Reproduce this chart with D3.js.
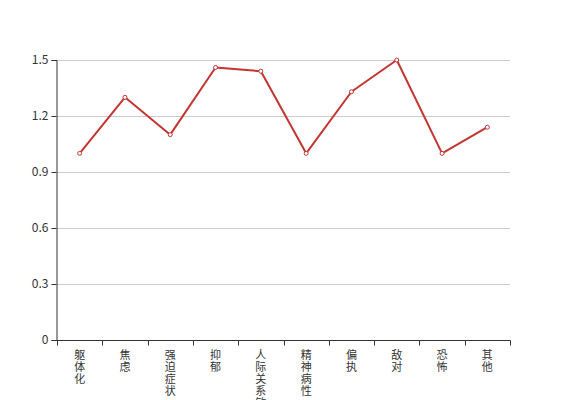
<!DOCTYPE html>
<html><head><meta charset="utf-8">
<script src="https://cdn.jsdelivr.net/npm/d3@7/dist/d3.min.js"></script>
<style>body{margin:0;background:#fff}svg{display:block}</style>
</head><body>
<svg id="c" width="567" height="400"></svg>
<script>
const categories = ["躯体化","焦虑","强迫症状","抑郁","人际关系敏感","精神病性","偏执","敌对","恐怖","其他"];
const values = [1.0, 1.30, 1.10, 1.46, 1.44, 1.0, 1.33, 1.5, 1.0, 1.14];
const yTicks = [0, 0.3, 0.6, 0.9, 1.2, 1.5];

const W = 567, H = 400;
const m = {left: 57, right: 57, top: 60, bottom: 60};
const svg = d3.select("#c");
const font = "'Noto Sans CJK SC', 'Noto Sans', sans-serif";

const x = d3.scaleBand().domain(categories).range([m.left, W - m.right]);
const y = d3.scaleLinear().domain([0, 1.5]).range([H - m.bottom, m.top]);

// grid
svg.append("g").selectAll("line").data(yTicks.filter(d => d > 0)).join("line")
  .attr("x1", m.left).attr("x2", W - m.right)
  .attr("y1", d => Math.round(y(d)) + 0.5).attr("y2", d => Math.round(y(d)) + 0.5)
  .attr("stroke", "#ccc").attr("stroke-width", 1);

// y axis
const ya = svg.append("g").attr("transform", `translate(${m.left - 0.5},0)`)
  .call(d3.axisLeft(y).tickValues(yTicks).tickSize(5).tickPadding(3).tickFormat(d => d === 0 ? "0" : d3.format(".1f")(d)));
ya.selectAll("path,line").attr("stroke", "#333");
ya.selectAll("text").attr("fill", "#333").style("font-family", font).style("font-size", "12px");

// x axis
const xa = svg.append("g").attr("transform", `translate(0,${H - m.bottom + 0.5})`)
  .call(d3.axisBottom(x).tickSize(0).tickFormat(""));
xa.select("path").attr("stroke", "#333").attr("d", `M${m.left - 0.5},0H${W - m.right + 0.5}`);
xa.selectAll(".tick").remove();
const bounds = categories.map(c => x(c)).concat([W - m.right]);
xa.selectAll("line.b").data(bounds).join("line").attr("class", "b")
  .attr("x1", d => Math.round(d) + 0.5).attr("x2", d => Math.round(d) + 0.5)
  .attr("y1", 0).attr("y2", 5).attr("stroke", "#333");

// vertical labels
const lab = svg.append("g").selectAll("text").data(categories).join("text")
  .attr("x", d => x(d) + x.bandwidth() / 2)
  .attr("y", H - m.bottom + 19)
  .attr("text-anchor", "middle")
  .attr("fill", "#333")
  .style("font-family", font).style("font-size", "11px");
lab.each(function(d) {
  const t = d3.select(this);
  const cx = x(d) + x.bandwidth() / 2;
  Array.from(d).forEach((ch, i) => {
    t.append("tspan").attr("x", cx).attr("dy", i === 0 ? 0 : 12).text(ch);
  });
});

// line
const line = d3.line().x((d, i) => x(categories[i]) + x.bandwidth() / 2).y(d => y(d));
svg.append("path").datum(values).attr("d", line)
  .attr("fill", "none").attr("stroke", "#c23531").attr("stroke-width", 2).attr("stroke-linejoin", "round");

svg.append("g").selectAll("circle").data(values).join("circle")
  .attr("cx", (d, i) => x(categories[i]) + x.bandwidth() / 2)
  .attr("cy", d => y(d)).attr("r", 2)
  .attr("fill", "#fff").attr("stroke", "#c23531").attr("stroke-width", 1);
</script>
</body></html>
